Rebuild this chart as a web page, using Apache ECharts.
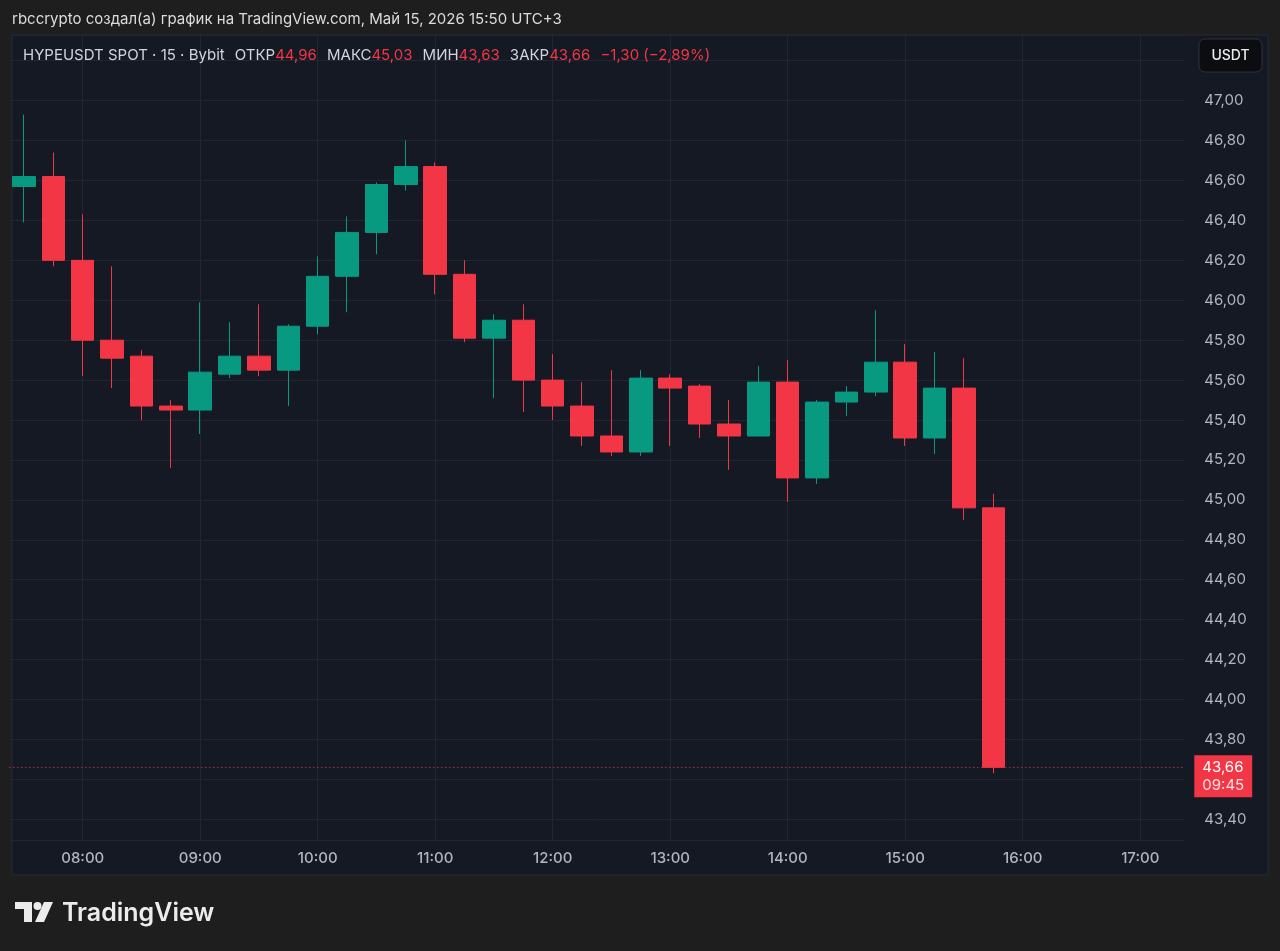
<!DOCTYPE html>
<html><head><meta charset="utf-8">
<script src="https://cdn.jsdelivr.net/npm/echarts@6/dist/echarts.min.js"></script>
<style>html,body{margin:0;padding:0;background:#1e1e1e;}#c{width:1280px;height:951px;}</style>
</head><body><div id="c"></div>
<script>
// Time slots (15-minute candles) shown on the axis
const slots = ['07:30','07:45','08:00','08:15','08:30','08:45','09:00','09:15','09:30','09:45',
  '10:00','10:15','10:30','10:45','11:00','11:15','11:30','11:45','12:00','12:15',
  '12:30','12:45','13:00','13:15','13:30','13:45','14:00','14:15','14:30','14:45',
  '15:00','15:15','15:30','15:45','16:00','16:15','16:30','16:45','17:00','17:15'];
const opens  = [46.57,46.62,46.20,45.80,45.72,45.47,45.45,45.63,45.72,45.65,45.87,46.12,46.34,46.58,46.67,46.13,45.81,45.90,45.60,45.47,45.32,45.24,45.61,45.57,45.38,45.32,45.59,45.11,45.49,45.54,45.69,45.31,45.56,44.96];
const highs  = [46.93,46.74,46.43,46.17,45.75,45.50,45.99,45.89,45.98,45.88,46.22,46.42,46.59,46.80,46.69,46.20,45.93,45.98,45.73,45.59,45.65,45.65,45.63,45.58,45.50,45.67,45.70,45.50,45.57,45.95,45.78,45.74,45.71,45.03];
const lows   = [46.39,46.17,45.62,45.56,45.40,45.16,45.33,45.61,45.62,45.47,45.83,45.94,46.23,46.55,46.03,45.79,45.51,45.44,45.40,45.27,45.22,45.22,45.27,45.31,45.15,45.32,44.99,45.08,45.42,45.52,45.27,45.23,44.90,43.63];
const closes = [46.62,46.20,45.80,45.71,45.47,45.45,45.64,45.72,45.65,45.87,46.12,46.34,46.58,46.67,46.13,45.81,45.90,45.60,45.47,45.32,45.24,45.61,45.56,45.38,45.32,45.59,45.11,45.49,45.54,45.69,45.31,45.56,44.96,43.66];
const countdown = '09:45';
const headerText = 'rbccrypto создал(а) график на TradingView.com, Май 15, 2026 15:50 UTC+3';
const symbolText = 'HYPEUSDT SPOT · 15 · Bybit';
const currency = 'USDT';

const UP = '#089981', DOWN = '#f23645';
const FONT = 'Inter, Roboto, "Noto Sans", sans-serif';
const fmt = v => v.toFixed(2).replace('.', ',');
const fmtSigned = v => (v < 0 ? '\u2212' : '+') + fmt(Math.abs(v));

const n = closes.length;
const lastO = opens[n-1], lastH = highs[n-1], lastL = lows[n-1], lastC = closes[n-1];
const prevC = closes[n-2];
const chg = lastC - prevC;
const pct = chg / prevC * 100;

const candleData = opens.map((o, i) => [o, closes[i], lows[i], highs[i]]);

const richBase = { fontSize: 15, fontWeight: 'normal', fontFamily: FONT };

const chart = echarts.init(document.getElementById('c'));
chart.setOption({
  backgroundColor: '#1e1e1e',
  animation: false,
  textStyle: { fontFamily: FONT },
  title: [
    { text: headerText, left: 12, top: 12, padding: 0,
      textStyle: { color: '#dcdcdc', fontSize: 15, fontWeight: 'normal', fontFamily: FONT } },
    { text: '{s|' + symbolText + '}  {l|ОТКР}{v|' + fmt(lastO) + '}  {l|МАКС}{v|' + fmt(lastH) +
            '}  {l|МИН}{v|' + fmt(lastL) + '}  {l|ЗАКР}{v|' + fmt(lastC) + '}  {v|' + fmtSigned(chg) +
            ' (' + fmtSigned(pct) + '%)}',
      left: 23, top: 46, padding: 0,
      textStyle: { fontWeight: 'normal', rich: {
        s: Object.assign({ color: '#d1d4dc' }, richBase),
        l: Object.assign({ color: '#d1d4dc' }, richBase),
        v: Object.assign({ color: DOWN }, richBase)
      } } }
  ],
  graphic: [
    { type: 'rect', z: -10, silent: true,
      shape: { x: 12, y: 35, width: 1256, height: 840 },
      style: { fill: '#151924', stroke: '#262a35', lineWidth: 1 } },
    { type: 'group', z: 100, children: [
      { type: 'rect', shape: { x: 1199, y: 39, width: 63, height: 33, r: 6 },
        style: { fill: '#0c0d10', stroke: '#2f323c', lineWidth: 1 } },
      { type: 'text', x: 1230.5, y: 55.5,
        style: { text: currency, fill: '#ececec', font: '500 14px ' + FONT, align: 'center', verticalAlign: 'middle' } }
    ] },
    { type: 'group', children: [
      { type: 'rect', shape: { x: 15, y: 902, width: 17, height: 7 }, style: { fill: '#ececec' } },
      { type: 'rect', shape: { x: 24, y: 902, width: 8, height: 20 }, style: { fill: '#ececec' } },
      { type: 'circle', shape: { cx: 37.5, cy: 906, r: 4 }, style: { fill: '#ececec' } },
      { type: 'polygon', shape: { points: [[44, 902], [53, 902], [44, 922], [35, 922]] }, style: { fill: '#ececec' } },
      { type: 'text', x: 62, y: 913, style: { text: 'TradingView', fill: '#ececec', font: '600 25px ' + FONT, verticalAlign: 'middle' } }
    ] }
  ],
  grid: { left: 9.3, width: 1175, top: 35, bottom: 111, containLabel: false },
  xAxis: {
    type: 'category', data: slots, boundaryGap: true,
    axisLine: { show: false }, axisTick: { show: false },
    axisLabel: { interval: (i, v) => v.endsWith(':00'), color: '#b2b5be', fontSize: 15, fontWeight: 500, margin: 11, fontFamily: FONT },
    splitLine: { show: true, alignWithLabel: true, interval: (i, v) => v.endsWith(':00'),
      lineStyle: { color: '#222633', width: 1 } }
  },
  yAxis: {
    type: 'value', position: 'right', scale: true,
    min: 43.296, max: 47.329, splitNumber: 20, minInterval: 0.2, maxInterval: 0.2,
    axisLine: { show: false }, axisTick: { show: false },
    axisLabel: { color: '#b2b5be', fontSize: 15, margin: 20, showMinLabel: false, showMaxLabel: false,
      formatter: v => (v > 47.1 ? '' : fmt(v)), fontFamily: FONT },
    splitLine: { show: true, lineStyle: { color: '#222633', width: 1 } }
  },
  series: [{
    type: 'candlestick',
    data: candleData,
    barWidth: 23,
    itemStyle: { color: UP, color0: DOWN, borderColor: UP, borderColor0: DOWN, borderWidth: 1 },
    markLine: {
      silent: true, symbol: ['none', 'none'], animation: false,
      data: [{ yAxis: lastC }],
      lineStyle: { color: DOWN, type: [1, 3], width: 1 },
      label: {
        position: 'end', distance: 10, offset: [0, 9],
        formatter: () => '{a|' + fmt(lastC) + '}\n{b|' + countdown + '}',
        backgroundColor: DOWN, padding: [3, 8, 3, 8],
        rich: {
          a: { color: '#ffffff', fontSize: 15, lineHeight: 18, fontFamily: FONT },
          b: { color: '#ffe0e3', fontSize: 15, lineHeight: 18, fontFamily: FONT }
        }
      }
    }
  }]
});
</script>
</body></html>
